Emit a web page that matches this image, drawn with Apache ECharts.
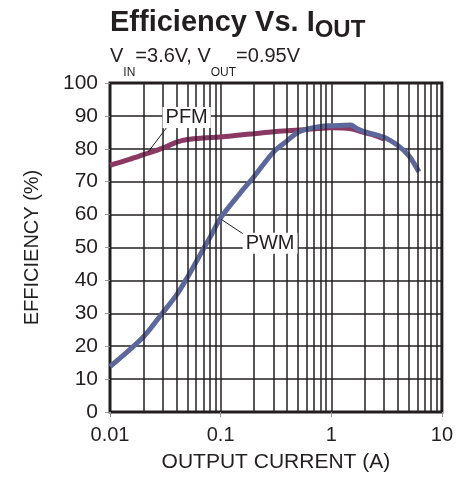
<!DOCTYPE html>
<html>
<head>
<meta charset="utf-8">
<script src="https://cdn.jsdelivr.net/npm/echarts@6/dist/echarts.min.js"></script>
<style>html,body{margin:0;padding:0;background:#fff;overflow:hidden}#c{width:456px;height:478px}</style>
</head>
<body>
<div id="c"></div>
<script>
// ---- data ----
var pfmCurrent = [0.01, 0.015, 0.02, 0.03, 0.04, 0.05, 0.07, 0.1, 0.15, 0.2, 0.3, 0.5, 0.7, 1, 1.5, 2, 2.5, 3];
var pfmEff     = [75, 76.8, 78.2, 80.2, 82, 82.8, 83.3, 83.6, 84.2, 84.6, 85.2, 85.7, 86.1, 86.4, 86.1, 84.9, 84, 83];
var pwmCurrent = [0.01, 0.02, 0.03, 0.04, 0.05, 0.06, 0.07, 0.08, 0.1, 0.15, 0.2, 0.3, 0.4, 0.5, 0.6, 0.8, 1, 1.5, 1.7, 2, 3, 4, 5, 6.2];
var pwmEff     = [13.8, 22.8, 30.2, 35.6, 40.9, 45.6, 49.6, 53, 59, 66.5, 71.5, 79, 82.5, 85, 86, 86.8, 87, 87.2, 86.2, 85.2, 83.5, 81, 78, 73];
var xTickLabels = {"0.01": "0.01", "0.1": "0.1", "1": "1", "10": "10"};
var yTicks = [0, 10, 20, 30, 40, 50, 60, 70, 80, 90, 100];
var minorGrid = [0.02, 0.03, 0.04, 0.05, 0.06, 0.07, 0.08, 0.09,
                 0.2, 0.3, 0.4, 0.5, 0.6, 0.7, 0.8, 0.9,
                 2, 3, 4, 5, 6, 7, 8, 9];
// annotation anchors (data space)
var pfmLabelAt = [0.0493, 89.5];
var pfmLeader  = [[0.0221, 79], [0.0334, 87]];
var pwmLabelAt = [0.28, 51.3];
var pwmLeader  = [[0.1008, 58.6], [0.169, 53.6]];

var ink = '#231f20';
var font = 'Liberation Sans, Arial, Helvetica, sans-serif';

function zip(a, b) { return a.map(function (v, i) { return [v, b[i]]; }); }

var chart = echarts.init(document.getElementById('c'));
chart.setOption({
  animation: false,
  backgroundColor: '#fff',
  textStyle: { fontFamily: font, color: ink },
  title: [
    {
      text: '{a|Efficiency Vs. I}{b|OUT}',
      left: 110, top: 8, padding: 0,
      textStyle: {
        rich: {
          a: { fontFamily: font, fontSize: 29, fontWeight: 'bold', color: ink, lineHeight: 30, verticalAlign: 'top' },
          b: { fontFamily: font, fontSize: 24, fontWeight: 'bold', color: ink, lineHeight: 23, padding: [10, 0, 0, 0], verticalAlign: 'top' }
        }
      }
    },
    {
      text: '{a|V}{b|IN}{a|=3.6V, V}{b|OUT}{a|=0.95V}',
      left: 110, top: 46, padding: 0,
      textStyle: {
        fontWeight: 'normal',
        rich: {
          a: { fontFamily: font, fontSize: 20, fontWeight: 'normal', color: ink, lineHeight: 22, verticalAlign: 'top' },
          b: { fontFamily: font, fontSize: 12, fontWeight: 'normal', color: ink, lineHeight: 10, padding: [21, 0, 0, 0], verticalAlign: 'top' }
        }
      }
    }
  ],
  grid: { left: 110, right: 12, top: 83, bottom: 60, show: true, borderColor: ink, borderWidth: 3, backgroundColor: 'transparent' },
  xAxis: {
    type: 'log', logBase: 10, min: 0.01, max: 10,
    name: 'OUTPUT CURRENT (A)', nameLocation: 'middle', nameGap: 40,
    nameTextStyle: { fontFamily: font, fontSize: 21, color: ink },
    axisLine: { show: false },
    axisTick: { show: true, length: 5, lineStyle: { color: '#999', width: 1 } },
    axisLabel: {
      fontFamily: font, fontSize: 20, color: ink, margin: 13,
      formatter: function (v) {
        var k = String(+v.toPrecision(3));
        return xTickLabels[k] !== undefined ? xTickLabels[k] : '';
      }
    },
    splitLine: { show: true, lineStyle: { color: ink, width: 1.5 } },
    minorTick: { show: false }, minorSplitLine: { show: false }
  },
  yAxis: {
    type: 'value', min: 0, max: 100, interval: 10,
    name: 'EFFICIENCY (%)', nameLocation: 'middle', nameGap: 68, nameRotate: 90,
    nameTextStyle: { fontFamily: font, fontSize: 20, color: ink },
    axisLine: { show: false },
    axisTick: { show: true, length: 5, lineStyle: { color: '#999', width: 1 } },
    axisLabel: { fontFamily: font, fontSize: 21, color: ink, margin: 12,
      formatter: function (v) { return yTicks.indexOf(v) >= 0 ? String(v) : ''; } },
    splitLine: { show: true, lineStyle: { color: ink, width: 1.5 } }
  },
  series: [
    {
      name: 'minorGrid', type: 'line', data: [], z: 1, silent: true,
      markLine: {
        silent: true, symbol: ['none', 'none'], animation: false,
        label: { show: false },
        lineStyle: { color: ink, width: 1.5, type: 'solid' },
        data: minorGrid.map(function (v) { return { xAxis: v }; })
      }
    },
    {
      name: 'PFM', type: 'line', data: zip(pfmCurrent, pfmEff), z: 3,
      showSymbol: false, smooth: 0.3,
      lineStyle: { color: '#8c3865', width: 5 }, itemStyle: { color: '#8c3865' }
    },
    {
      name: 'PWM', type: 'line', data: zip(pwmCurrent, pwmEff), z: 4,
      showSymbol: false, smooth: 0.3,
      lineStyle: { color: '#5c679b', width: 5 }, itemStyle: { color: '#5c679b' }
    },
    {
      name: 'annot', type: 'line', data: [], z: 6, silent: true,
      markLine: {
        silent: true, symbol: ['none', 'none'], animation: false,
        label: { show: false },
        lineStyle: { color: ink, width: 1, type: 'solid' },
        data: [
          [{ coord: pfmLeader[0] }, { coord: pfmLeader[1] }],
          [{ coord: pwmLeader[0] }, { coord: pwmLeader[1] }]
        ]
      },
      markPoint: {
        silent: true, animation: false,
        symbol: 'rect', symbolSize: 1, itemStyle: { color: 'rgba(0,0,0,0)' },
        label: { show: true, position: 'inside', fontFamily: font, fontSize: 20, color: ink,
          backgroundColor: '#fff', padding: [1, 3, 0, 3] },
        data: [
          { coord: pfmLabelAt, label: { formatter: 'PFM' } },
          { coord: pwmLabelAt, label: { formatter: 'PWM' } }
        ]
      }
    }
  ]
});
</script>
</body>
</html>
